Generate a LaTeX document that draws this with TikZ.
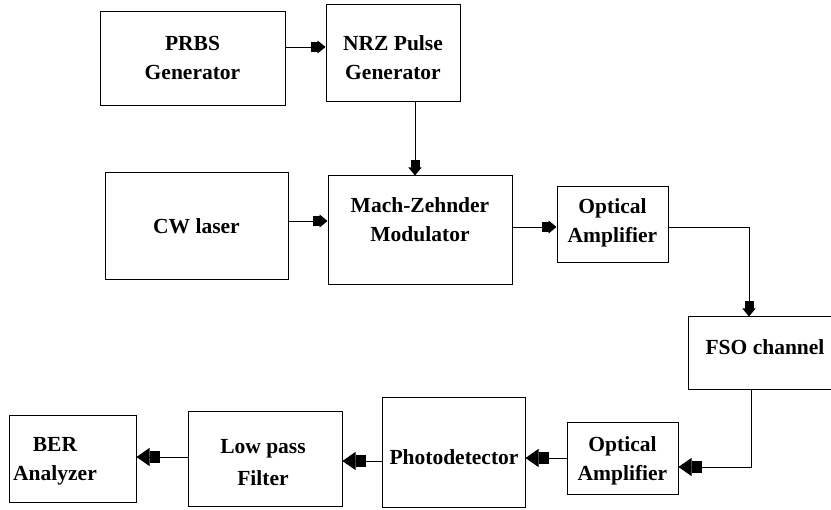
\documentclass[tikz,border=0pt]{standalone}
\usepackage{fontspec}
\setmainfont{Liberation Serif}[BoldFont={Liberation Serif Bold}]
\usetikzlibrary{arrows.meta}
\begin{document}
\begin{tikzpicture}[x=1pt,y=-1pt,
  box/.style={draw, line width=1pt, inner sep=0pt},
  lbl/.style={font=\fontsize{21.5}{29}\selectfont\bfseries, align=center, inner sep=0pt},
  wire/.style={line width=0.9pt},
  arr/.style={wire, -{Rectangle[length=7pt,width=9pt,sep=0pt]Triangle[length=8pt,width=13pt]}},
  bigarr/.style={wire, -{Rectangle[length=10pt,width=11pt,sep=0pt]Triangle[length=13pt,width=18pt]}}]
\useasboundingbox (0,0) rectangle (831,510);
% boxes
\node[box, minimum width=185pt, minimum height=94pt] (prbs) at (192.5,59) {};
\node[lbl] (prbst) at (192.5,58) {PRBS\\Generator};
\node[box, minimum width=134pt, minimum height=97pt] (nrz) at (393,53.5) {};
\node[lbl] (nrzt) at (393,58) {NRZ Pulse\\Generator};
\node[box, minimum width=183pt, minimum height=107pt] (cw) at (196.5,226.5) {};
\node[lbl] (cwt) at (196.5,226) {CW laser};
\node[box, minimum width=184pt, minimum height=109pt] (mzm) at (420,230.5) {};
\node[lbl] (mzmt) at (420,220) {Mach-Zehnder\\Modulator};
\node[box, minimum width=111pt, minimum height=76pt] (oa1) at (612.5,225) {};
\node[lbl] (oa1t) at (612.5,223) {Optical\\Amplifier};
\node[box, minimum width=152pt, minimum height=73pt] (fso) at (764,353.5) {};
\node[lbl] (fsot) at (765,347) {FSO channel};
\node[box, minimum width=111pt, minimum height=72pt] (oa2) at (622.5,459) {};
\node[lbl] (oa2t) at (622.5,461) {Optical\\Amplifier};
\node[box, minimum width=143pt, minimum height=110pt] (pd) at (453.5,453) {};
\node[lbl] (pdt) at (454,457) {Photodetector};
\node[box, minimum width=154pt, minimum height=95pt] (lpf) at (265,459.5) {};
\node[lbl, font=\fontsize{21.5}{32}\selectfont\bfseries] (lpft) at (263,463) {Low pass\\Filter};
\node[box, minimum width=127pt, minimum height=87pt] (ber) at (72.5,459.5) {};
\node[lbl] (bert) at (55,461) {BER\\Analyzer};
% connectors
\draw[arr] (prbs.east |- 0,47) -- (nrz.west |- 0,47);
\draw[arr] (nrz.south -| 415,0) -- (mzm.north -| 415,0);
\draw[arr] (cw.east |- 0,221) -- (mzm.west |- 0,221);
\draw[arr] (mzm.east |- 0,227) -- (oa1.west |- 0,227);
\draw[arr] (oa1.east |- 0,227) -| (fso.north -| 749,0);
\draw[bigarr] (fso.south -| 751,0) |- (oa2.east |- 0,467);
\draw[bigarr] (oa2.west |- 0,458) -- (pd.east |- 0,458);
\draw[bigarr] (pd.west |- 0,461) -- (lpf.east |- 0,461);
\draw[bigarr] (lpf.west |- 0,457) -- (ber.east |- 0,457);
\end{tikzpicture}
\end{document}
